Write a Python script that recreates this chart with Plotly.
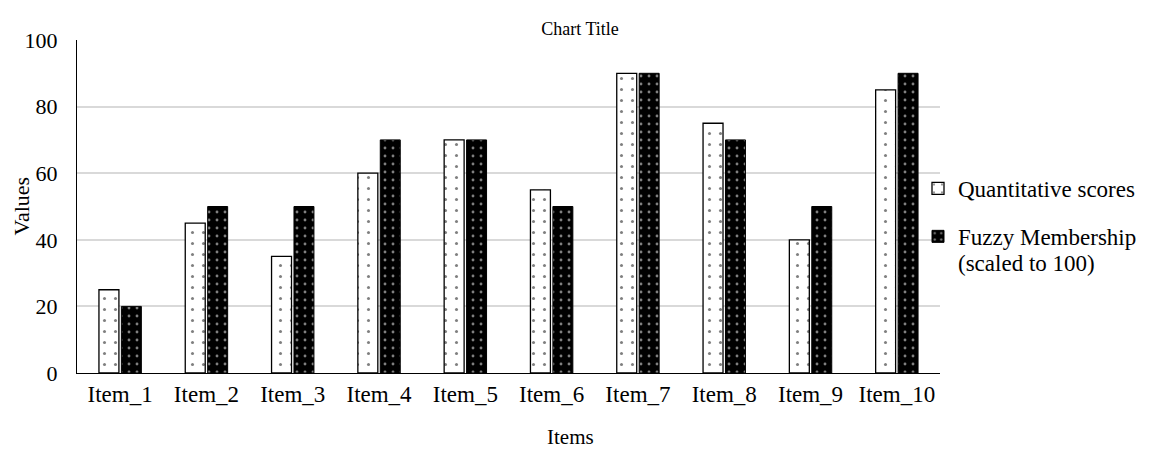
import plotly.graph_objects as go

categories = ["Item_1", "Item_2", "Item_3", "Item_4", "Item_5",
              "Item_6", "Item_7", "Item_8", "Item_9", "Item_10"]
quantitative = [25, 45, 35, 60, 70, 55, 90, 75, 40, 85]
fuzzy = [20, 50, 50, 70, 70, 50, 90, 70, 50, 90]
y_ticks = [0, 20, 40, 60, 80, 100]

FONT = "Liberation Serif, Times New Roman, serif"

# plot area on screen: x 77..940, y 40..373 (page body adds 8px offset)
def px(x):
    return (x - 77) / 863


def py(y):
    return (373 - y) / 333


fig = go.Figure()
fig.add_trace(go.Bar(
    x=categories, y=quantitative, name="Quantitative scores",
    legendgroup="q",
    marker=dict(color="white", line=dict(color="black", width=1.3),
                pattern=dict(shape=".", fgcolor="black", bgcolor="white",
                             size=11, solidity=0.06)),
))
fig.add_trace(go.Bar(
    x=categories, y=fuzzy, name="Fuzzy Membership",
    legendgroup="f",
    marker=dict(color="black", line=dict(color="black", width=1),
                pattern=dict(shape=".", fgcolor="white", bgcolor="black",
                             size=8, solidity=0.1)),
))

fig.add_annotation(text="(scaled to 100)", xref="paper", yref="paper",
                   x=px(956), y=py(264),
                   xanchor="left", yanchor="middle", showarrow=False,
                   font=dict(family=FONT, size=23, color="black"))
fig.add_annotation(text="Values", xref="paper", yref="paper",
                   x=px(21), y=0.5, textangle=-90,
                   xanchor="center", yanchor="middle", showarrow=False,
                   font=dict(family=FONT, size=22, color="black"))
fig.add_annotation(text="Items", xref="paper", yref="paper",
                   x=px(570), y=py(437),
                   xanchor="center", yanchor="middle", showarrow=False,
                   font=dict(family=FONT, size=21, color="black"))

fig.update_layout(
    width=1156, height=450,
    margin=dict(l=69, r=224, t=32, b=85, autoexpand=False),
    paper_bgcolor="white", plot_bgcolor="white",
    font=dict(family=FONT, size=22, color="black"),
    title=dict(text="Chart Title", x=(580 - 8) / 1156, xref="container",
               xanchor="center", y=0.955, yanchor="middle",
               font=dict(family=FONT, size=18, color="black")),
    barmode="group", bargap=0.48, bargroupgap=0.11,
    legend=dict(x=px(918), xanchor="left",
                y=py(167), yanchor="top",
                font=dict(family=FONT, size=23), tracegroupgap=15,
                itemwidth=30, bgcolor="rgba(0,0,0,0)"),
    xaxis=dict(showline=True, linecolor="black", linewidth=1,
               ticks="", tickfont=dict(size=23), automargin=False),
    yaxis=dict(range=[0, 100], tickvals=y_ticks,
               showline=True, linecolor="black", linewidth=1,
               gridcolor="#d9d9d9", gridwidth=1.5, zeroline=False,
               tickfont=dict(size=22), ticks="", ticklabelstandoff=14,
               automargin=False),
)

fig.write_html("out.html")
